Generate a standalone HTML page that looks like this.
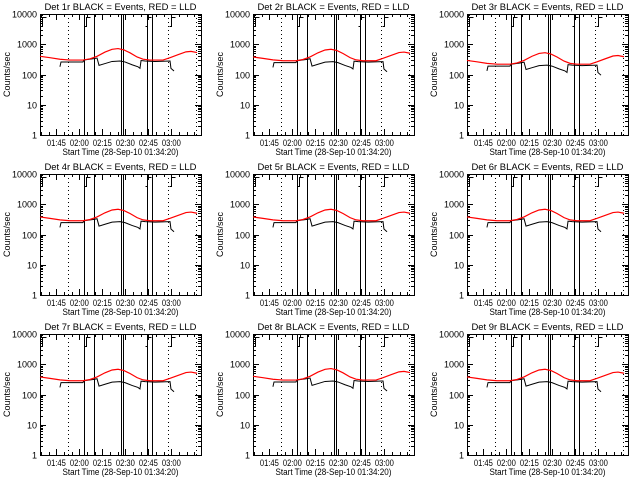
<!DOCTYPE html>
<html><head><meta charset="utf-8"><style>
html,body{margin:0;padding:0;background:#fff;width:640px;height:480px;overflow:hidden}
svg text{font-family:"Liberation Sans",sans-serif;font-size:9px;fill:#000}
</style></head><body>
<svg id="chart" width="640" height="480" viewBox="0 0 640 480" xmlns="http://www.w3.org/2000/svg"></svg>
<script>
// data: minutes from 01:34:20 start
const redTimes=[0,6.5,13,19.6,28,32.6,37.2,42.4,47,50.9,54.8,58.7,63.3,67.2,71.7,80.2,84.8,90,95.2,98.5,102.4];
const redValues=[400,360,320,300,300,330,400,550,680,720,650,520,380,320,300,300,360,450,560,580,530];
const blackTimes=[13,13.7,28,28.7,34.6,37.2,38.5,42.4,47,52.2,55.4,60,63.9,65.2,65.9,68.5,75,84.8,85.4,87.4];
const blackValues=[180,260,260,300,330,350,200,230,270,280,260,210,180,160,290,280,270,280,160,130];
const solidLines=[28.9,35.4,52.8,53.9,69.6,73.2];
const dottedLines=[18,83.7,101.5];
const markerTimes=[1.5,30,69.8,85.4];
const panelScale=[1,0.95,0.73,0.95,0.95,0.95,0.95,1,0.95];
const panelNames=["1r","2r","3r","4r","5r","6r","7r","8r","9r"];
const xTickTimes=[10.67,25.67,40.67,55.67,70.67,85.67];
const xTickLabels=["01:45","02:00","02:15","02:30","02:45","03:00"];
const yTickValues=[1,10,100,1000,10000];
const yTickLabels=["1","10","100","1000","10000"];

const NS="http://www.w3.org/2000/svg";
const svg=document.getElementById('chart');
function el(tag,attrs,parent){const e=document.createElementNS(NS,tag);for(const k in attrs)e.setAttribute(k,attrs[k]);(parent||svg).appendChild(e);return e;}
const W=161,H=121,TMAX=105;
const r=v=>Math.round(v)+0.5;
for(let p=0;p<9;p++){
  const ox=Math.round(40+(p%3)*213.33), oy=14+Math.floor(p/3)*160;
  const xs=t=>ox+t/TMAX*W;
  const ys=v=>oy+H-Math.log10(v)/4*H;
  const g=el('g',{});
  
  
  const t=el('text',{x:ox+W/2-76,y:oy-4,textLength:152,lengthAdjust:'spacingAndGlyphs','font-size':'10'},g);
  
  
  t.textContent='Det '+panelNames[p]+' BLACK = Events, RED = LLD';
  const box=el('rect',{x:ox+0.5,y:oy+0.5,width:W,height:H,fill:'none',stroke:'#000','stroke-width':1},g);
  
  
  yTickValues.forEach((v,i)=>{
    const y=r(ys(v));
    el('line',{x1:ox,x2:ox+6,y1:y,y2:y,stroke:'#000'},g);
    el('line',{x1:ox+W-6,x2:ox+W,y1:y,y2:y,stroke:'#000'},g);
    const l=el('text',{x:ox-3,y:y+3,'text-anchor':'end','font-size':'8'},g);
    
    
    l.textContent=yTickLabels[i];
    if(i<4)for(let m=2;m<10;m++){const ym=r(ys(v*m));
      el('line',{x1:ox,x2:ox+3,y1:ym,y2:ym,stroke:'#000'},g);
      el('line',{x1:ox+W-3,x2:ox+W,y1:ym,y2:ym,stroke:'#000'},g);}
  });
  const yt=el('text',{x:0,y:0,transform:`translate(${ox-30},${oy+H/2}) rotate(-90)`,'text-anchor':'middle','font-size':'7'},g);
  
  
  yt.textContent='Counts/sec';
  for(let m=0;m<=TMAX;m+=5){const x=r(xs(m+0.67));if(x<ox||x>ox+W)continue;
    const major=xTickTimes.some(tt=>Math.abs(tt-(m+0.67))<0.01);
    el('line',{x1:x,x2:x,y1:oy+H,y2:oy+H-(major?6:3),stroke:'#000'},g);
    el('line',{x1:x,x2:x,y1:oy,y2:oy+(major?6:3),stroke:'#000'},g);}
  xTickTimes.forEach((tt,i)=>{
    const l=el('text',{x:xs(tt)-9.5,y:oy+H+11,textLength:19,lengthAdjust:'spacingAndGlyphs','font-size':'8'},g);
    
    
    l.textContent=xTickLabels[i];});
  const xt=el('text',{x:ox+W/2-58,y:oy+H+20,textLength:116,lengthAdjust:'spacingAndGlyphs','font-size':'9'},g);
  
  
  xt.textContent='Start Time (28-Sep-10 01:34:20)';
  solidLines.forEach(tt=>{const x=r(xs(tt));const l=el('line',{x1:x,x2:x,y1:oy,y2:oy+H,stroke:'#000','stroke-width':1},g);
    
    });
  dottedLines.forEach(tt=>{const x=r(xs(tt));const l=el('line',{x1:x,x2:x,y1:oy,y2:oy+H,stroke:'#000','stroke-dasharray':'1,3'},g);
    
    });
  markerTimes.forEach(tt=>{const x=r(xs(tt));
    const m=el('path',{d:`M${x-2},${oy+12.5}H${x}V${oy+3.5}H${x+4}`,fill:'none',stroke:'#000'},g);
    
    });
  const s=panelScale[p];
  const bp=el('polyline',{points:blackTimes.map((tt,i)=>xs(tt)+','+ys(blackValues[i]*s)).join(' '),fill:'none',stroke:'#000','stroke-width':1},g);
  
  
  const rp=el('polyline',{points:redTimes.map((tt,i)=>xs(tt)+','+ys(redValues[i]*s)).join(' '),fill:'none',stroke:'#f00','stroke-width':1.2},g);
  
  
}
</script>
</body></html>
